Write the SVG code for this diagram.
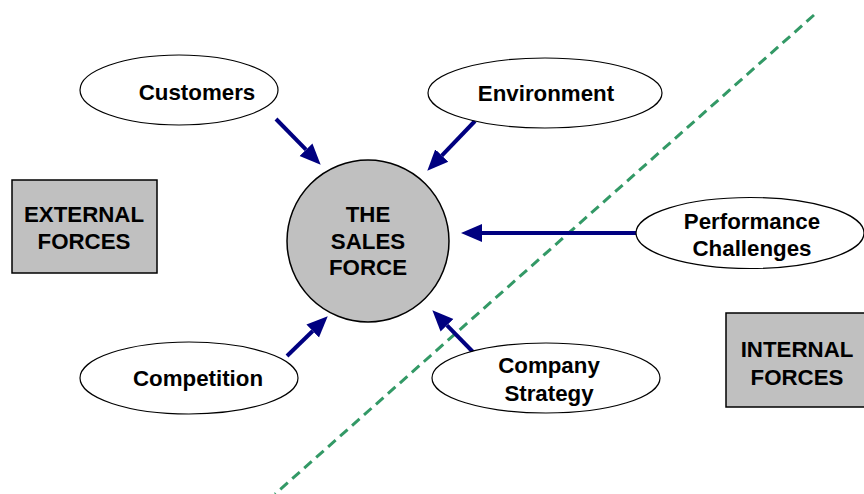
<svg xmlns="http://www.w3.org/2000/svg" width="864" height="494" viewBox="0 0 864 494">
<style>
.lbl{font-family:"Liberation Sans",Arial,sans-serif;font-weight:bold;font-size:22.3px;fill:#000;text-anchor:middle}
.oval{fill:#fff;stroke:#000;stroke-width:1.2}
.box{fill:#c0c0c0;stroke:#000;stroke-width:1.5}
.arr{stroke:#000080;stroke-width:4;fill:none;marker-end:url(#ah)}
</style>
<defs>
<marker id="ah" markerUnits="userSpaceOnUse" markerWidth="22" markerHeight="20" refX="0" refY="9" orient="auto" viewBox="0 0 22 18">
<path d="M0,0 L21,9 L0,18 z" fill="#000080"/>
</marker>
</defs>
<rect width="864" height="494" fill="#fff"/>
<line x1="814" y1="15" x2="275" y2="494" stroke="#339966" stroke-width="3" stroke-dasharray="10,6"/>
<g id="connectors">
<line class="arr" x1="276" y1="119" x2="306" y2="149.7"/>
<line class="arr" x1="475" y1="121" x2="441.8" y2="155.6"/>
<line class="arr" x1="636" y1="233" x2="482" y2="233"/>
<line class="arr" x1="287" y1="356" x2="312.7" y2="331"/>
<line class="arr" x1="473" y1="352" x2="447" y2="325.3"/>
</g>
<g id="sales-force">
<circle cx="368" cy="241" r="81" fill="#c0c0c0" stroke="#000" stroke-width="1.5"/>
<text class="lbl" x="368" y="222">THE</text>
<text class="lbl" x="368" y="248.5">SALES</text>
<text class="lbl" x="368" y="275">FORCE</text>
</g>
<g id="customers">
<ellipse class="oval" cx="179" cy="90" rx="99" ry="35"/>
<text class="lbl" x="197" y="100">Customers</text>
</g>
<g id="environment">
<ellipse class="oval" cx="545" cy="93" rx="117" ry="35"/>
<text class="lbl" x="546" y="101">Environment</text>
</g>
<g id="performance">
<ellipse class="oval" cx="750" cy="233" rx="114" ry="35.5"/>
<text class="lbl" x="752" y="229">Performance</text>
<text class="lbl" x="752" y="256">Challenges</text>
</g>
<g id="competition">
<ellipse class="oval" cx="189" cy="378" rx="109" ry="36"/>
<text class="lbl" x="198" y="386">Competition</text>
</g>
<g id="company-strategy">
<ellipse class="oval" cx="546" cy="378" rx="114" ry="35"/>
<text class="lbl" x="549" y="373">Company</text>
<text class="lbl" x="549" y="401">Strategy</text>
</g>
<g id="external-forces">
<rect class="box" x="12" y="180" width="145" height="93"/>
<text class="lbl" x="84" y="222">EXTERNAL</text>
<text class="lbl" x="84" y="249">FORCES</text>
</g>
<g id="internal-forces">
<rect class="box" x="726" y="313" width="140" height="94"/>
<text class="lbl" x="797" y="357">INTERNAL</text>
<text class="lbl" x="797" y="385">FORCES</text>
</g>
</svg>
